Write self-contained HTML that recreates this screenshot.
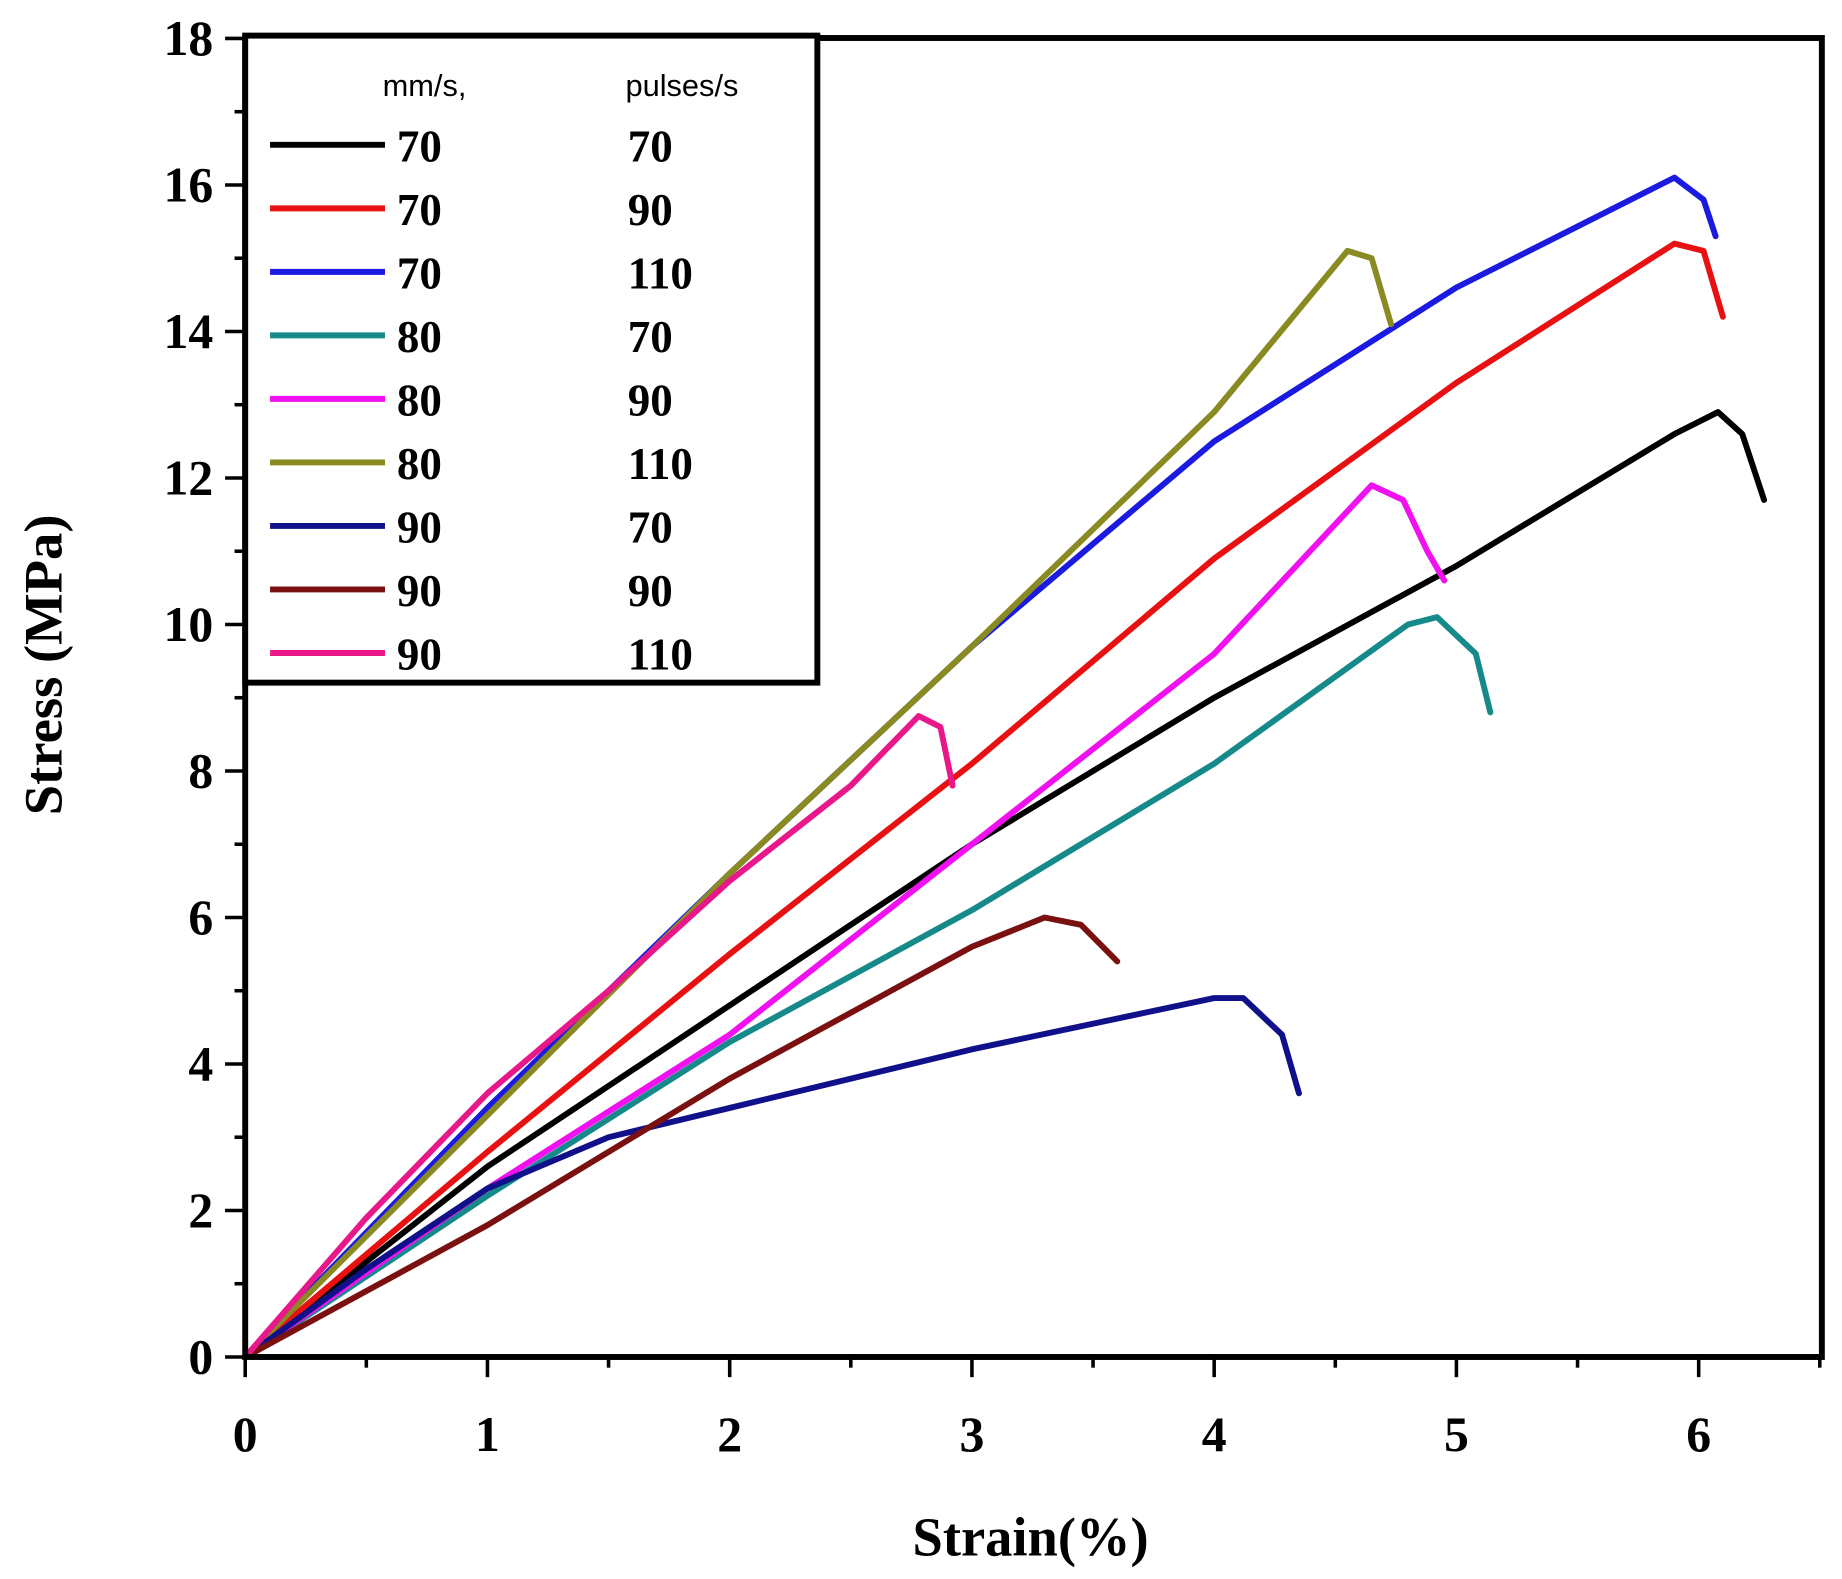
<!DOCTYPE html>
<html><head><meta charset="utf-8"><style>
html,body{margin:0;padding:0;background:#fff;}
svg{display:block;}
text{font-family:"Liberation Serif",serif;font-weight:bold;fill:#000;}
.s{font-family:"Liberation Sans",sans-serif;font-weight:normal;}
</style></head><body>
<svg id="c" width="1842" height="1579" viewBox="0 0 1555 1330" preserveAspectRatio="none" xmlns="http://www.w3.org/2000/svg">
<g id="curves" fill="none" stroke-width="5" stroke-linejoin="round" stroke-linecap="round"></g>
<rect x="207" y="32" width="1331" height="1111" fill="none" stroke="#000" stroke-width="5"/>
<g id="ticks" stroke="#000" stroke-width="3"></g>
<g font-size="42" text-anchor="end" id="yl"></g>
<g font-size="42" text-anchor="middle" id="xl"></g>
<text x="870" y="1310" font-size="46" text-anchor="middle">Strain(%)</text>
<text transform="translate(52,560) rotate(-90)" font-size="46" text-anchor="middle">Stress (MPa)</text>
<rect x="207" y="30" width="483" height="545" fill="#fff" stroke="#000" stroke-width="5"/>
<text class="s" x="323" y="81" font-size="26">mm/s,</text>
<text class="s" x="528" y="81" font-size="26">pulses/s</text>
<g id="leg" font-size="38"></g>
</svg>
<script>
const X=x=>207+204.5*x, Y=y=>1143-61.7*y;
const S=[
["#000","70","70",[[0,0],[1,2.6],[2,4.8],[3,7.0],[4,9.0],[5,10.8],[5.9,12.6],[6.08,12.9],[6.18,12.6],[6.27,11.7]]],
["#e81010","70","90",[[0,0],[1,2.8],[2,5.5],[3,8.1],[4,10.9],[5,13.3],[5.9,15.2],[6.02,15.1],[6.1,14.2]]],
["#1a1ae0","70","110",[[0,0],[1,3.4],[2,6.6],[3,9.7],[4,12.5],[5,14.6],[5.9,16.1],[6.02,15.8],[6.07,15.3]]],
["#168a8a","80","70",[[0,0],[1,2.2],[2,4.3],[3,6.1],[4,8.1],[4.8,10.0],[4.92,10.1],[5.08,9.6],[5.14,8.8]]],
["#f010f0","80","90",[[0,0],[1,2.3],[2,4.4],[3,7.0],[4,9.6],[4.65,11.9],[4.78,11.7],[4.88,11.0],[4.95,10.6]]],
["#8a8a22","80","110",[[0,0],[1,3.3],[2,6.6],[3,9.7],[4,12.9],[4.55,15.1],[4.65,15.0],[4.73,14.1]]],
["#10108a","90","70",[[0,0],[0.5,1.2],[1,2.3],[1.5,3.0],[2,3.4],[3,4.2],[4,4.9],[4.12,4.9],[4.28,4.4],[4.35,3.6]]],
["#7a1010","90","90",[[0,0],[1,1.8],[2,3.8],[3,5.6],[3.3,6.0],[3.45,5.9],[3.6,5.4]]],
["#e8178a","90","110",[[0,0],[0.5,1.9],[1,3.6],[1.5,5.0],[2,6.5],[2.5,7.8],[2.78,8.75],[2.87,8.6],[2.92,7.8]]]];
const ns="http://www.w3.org/2000/svg";
function el(p,t,a,txt){const e=document.createElementNS(ns,t);for(const k in a)e.setAttribute(k,a[k]);if(txt!==undefined)e.textContent=txt;document.getElementById(p).appendChild(e);}
S.forEach((s,i)=>{
 el("curves","polyline",{points:s[3].map(p=>X(p[0])+","+Y(p[1])).join(" "),stroke:s[0]});
 const ry=122+53.5*i;
 el("leg","line",{x1:228,x2:325,y1:ry,y2:ry,stroke:s[0],"stroke-width":5});
 el("leg","text",{x:335,y:ry+14},s[1]);
 el("leg","text",{x:530,y:ry+14},s[2]);
});
for(let i=0;i<=13;i++){const x=207+102.25*i;el("ticks","line",{x1:x,x2:x,y1:1143,y2:i%2?1152:1160});}
for(let i=0;i<=18;i++){const y=Y(i);el("ticks","line",{x1:207,x2:i%2?198:190,y1:y,y2:y});}
for(let i=0;i<=6;i++)el("xl","text",{x:X(i),y:1222},i);
for(let i=0;i<=18;i+=2)el("yl","text",{x:180,y:Y(i)+14},i);
</script>
</body></html>
